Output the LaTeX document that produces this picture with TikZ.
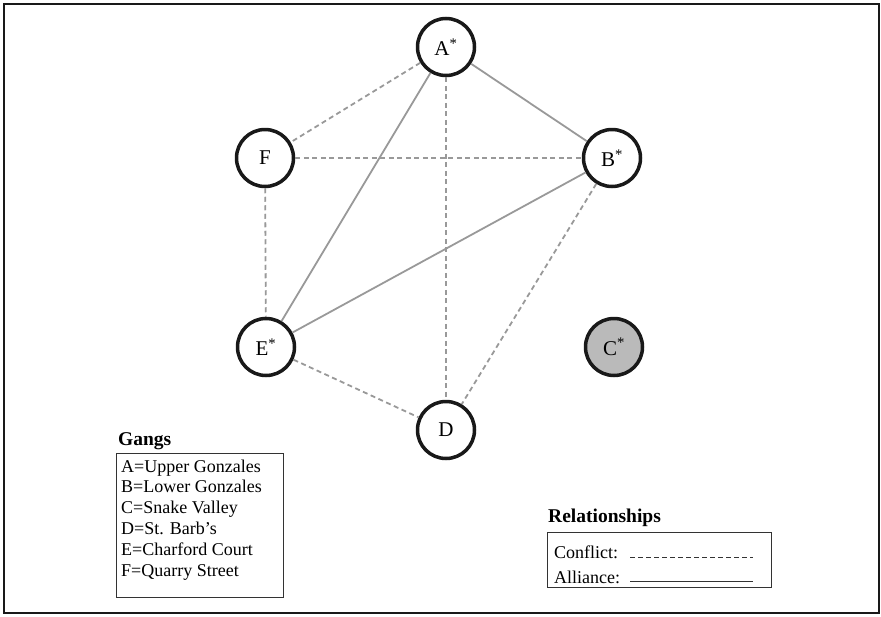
\documentclass[tikz,border=0pt]{standalone}
\usepackage{fontspec}
\setmainfont{Liberation Serif}
\begin{document}
\begin{tikzpicture}[x=1pt,y=-1pt,
  gang/.style={circle,draw=black!90,line width=3.5pt,minimum size=57pt,inner sep=0pt,fill=white,font=\fontsize{21}{24}\selectfont},
  conflict/.style={draw=black!40,line width=1.8pt,dash pattern=on 5pt off 3.5pt},
  alliance/.style={draw=black!40,line width=1.8pt},
  legtext/.style={font=\fontsize{18}{21}\selectfont,anchor=base west,inner sep=0pt},
  legtitle/.style={font=\bfseries\fontsize{19.5}{23}\selectfont,anchor=base west,inner sep=0pt}]
\useasboundingbox (0,0) rectangle (881,616);
\draw[line width=2.5pt,black!90] (4,4) rectangle (879,613);
\node[gang] (A) at (446,47) {A\textsuperscript{*}};
\node[gang] (F) at (265,158) {F};
\node[gang] (B) at (612,158) {B\textsuperscript{*}};
\node[gang] (E) at (266,347) {E\textsuperscript{*}};
\node[gang,fill=black!27] (C) at (614,347) {C\textsuperscript{*}};
\node[gang] (D) at (446,430) {D};
\draw[alliance] (A) -- (B);
\draw[conflict] (A) -- (F);
\draw[alliance] (A) -- (E);
\draw[conflict] (A) -- (D);
\draw[conflict] (F) -- (B);
\draw[conflict] (F) -- (E);
\draw[alliance] (E) -- (B);
\draw[conflict] (E) -- (D);
\draw[conflict] (B) -- (D);
% Gangs legend
\node[legtitle] (gt) at (118,445) {Gangs};
\draw[line width=1pt,black!80] (116,453) rectangle (283,597);
\node[legtext] (g1) at (121,472) {A=Upper Gonzales};
\node[legtext] (g2) at (121,492.8) {B=Lower Gonzales};
\node[legtext] (g3) at (121,513.6) {C=Snake Valley};
\node[legtext] (g4) at (121,534.4) {D=St. Barb’s};
\node[legtext] (g5) at (121,555.2) {E=Charford Court};
\node[legtext] (g6) at (121,576) {F=Quarry Street};
% Relationships legend
\node[legtitle] (rt) at (548,522) {Relationships};
\draw[line width=1pt,black!80] (547,532) rectangle (771,587);
\node[legtext] (r1) at (554,558.5) {Conflict:};
\node[legtext] (r2) at (554,583) {Alliance:};
\coordinate (c1) at (630,557);
\coordinate (c2) at (753,557);
\coordinate (a1) at (630,581);
\coordinate (a2) at (753,581);
\draw[black!80,line width=0.9pt,dash pattern=on 4.5pt off 3.5pt] (c1) -- (c2);
\draw[black!80,line width=1pt] (a1) -- (a2);
\end{tikzpicture}
\end{document}
